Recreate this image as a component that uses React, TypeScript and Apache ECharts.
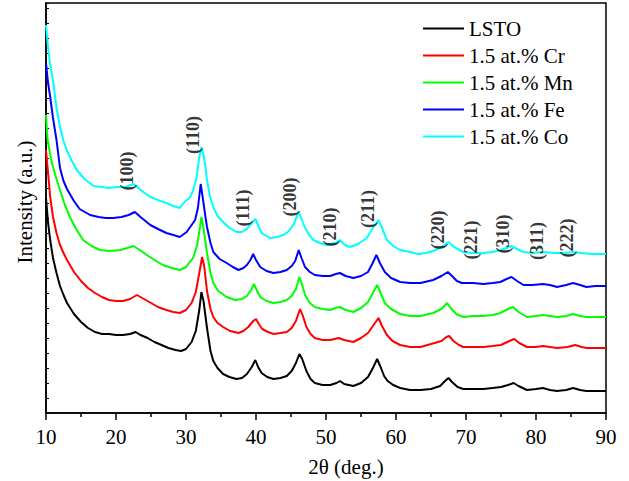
import React, { useEffect, useRef } from "react";
import * as echarts from "echarts";

const seriesNames = ["LSTO", "1.5 at.% Cr", "1.5 at.% Mn", "1.5 at.% Fe", "1.5 at.% Co"];
const seriesColors = ["#000000", "#ff0000", "#00ff00", "#0000ff", "#00ffff"];

const lsto = [
  [10.0, 215], [10.3, 190], [10.6, 173], [11.0, 155], [11.5, 140], [12.0, 127], [12.5, 118], [13.0, 110], [14.0, 99], [15.0, 91], [16.0, 85], [17.0, 81], [18.0, 79], [19.0, 79], [20.0, 78], [21.0, 78], [22.0, 79], [22.8, 81], [23.5, 78], [24.5, 75], [25.5, 71], [26.5, 68], [27.5, 65], [28.5, 63], [29.3, 62], [30.0, 64], [30.8, 71], [31.4, 82], [31.9, 103], [32.2, 121], [32.5, 112], [33.0, 85], [33.5, 62], [33.9, 52], [34.5, 45], [35.3, 39], [36.2, 36], [37.2, 34], [38.0, 35], [38.7, 39], [39.4, 46], [39.9, 53], [40.3, 46], [40.8, 40], [41.6, 36], [42.5, 34], [43.5, 35], [44.4, 37], [45.1, 42], [45.7, 50], [46.2, 59], [46.6, 54], [47.2, 42], [47.8, 34], [48.4, 30], [49.5, 28], [50.6, 28], [51.5, 30], [52.0, 32], [52.6, 29], [53.9, 27], [55.0, 30], [56.0, 36], [56.7, 45], [57.3, 54], [57.8, 46], [58.3, 37], [58.8, 32], [59.6, 28], [60.6, 25], [62.0, 23], [63.5, 23], [65.0, 24], [66.3, 27], [67.0, 32], [67.5, 35], [68.0, 31], [68.8, 26], [69.6, 24], [71.0, 24], [72.5, 24], [73.8, 25], [75.0, 26], [76.0, 28], [76.8, 30], [77.5, 27], [78.7, 23], [80.0, 24], [81.0, 25], [82.0, 23], [83.0, 22], [84.3, 23], [85.3, 25], [86.3, 23], [87.2, 22], [88.5, 22], [90.0, 22],
];

const cr = [
  [10.0, 263], [10.3, 240], [10.6, 216], [11.0, 196], [11.5, 180], [12.0, 168], [12.5, 160], [13.0, 153], [14.0, 141], [15.0, 132], [16.0, 125], [17.0, 120], [18.0, 116], [19.0, 113], [20.0, 112], [21.0, 112], [22.0, 114], [23.0, 118], [24.0, 114], [25.0, 110], [26.0, 106], [27.2, 103], [28.2, 101], [29.1, 100], [30.0, 103], [30.8, 110], [31.4, 121], [31.9, 140], [32.3, 156], [32.6, 147], [33.0, 122], [33.5, 104], [33.9, 96], [34.5, 90], [35.3, 86], [36.3, 82], [37.5, 80], [38.2, 82], [38.9, 86], [39.6, 92], [40.0, 94], [40.4, 89], [40.9, 84], [41.7, 81], [42.5, 79], [43.5, 80], [44.4, 81], [45.1, 85], [45.7, 92], [46.3, 104], [46.7, 97], [47.2, 86], [47.8, 79], [48.4, 75], [49.5, 73], [50.6, 73], [51.8, 75], [52.6, 73], [53.9, 71], [55.0, 75], [56.0, 80], [56.8, 88], [57.5, 95], [58.0, 87], [58.7, 78], [59.5, 72], [60.6, 68], [62.0, 66], [63.5, 66], [65.0, 69], [66.5, 72], [67.2, 76], [67.6, 77], [68.2, 72], [69.0, 68], [69.6, 66], [71.0, 66], [72.5, 66], [73.8, 67], [75.0, 68], [76.2, 72], [76.9, 74], [77.6, 70], [78.7, 66], [80.0, 66], [81.0, 67], [82.0, 66], [83.0, 65], [84.5, 66], [85.6, 68], [86.5, 66], [87.2, 65], [88.5, 65], [90.0, 65],
];

const mn = [
  [10.0, 298], [10.2, 275], [10.6, 258], [11.0, 246], [11.5, 234], [12.0, 223], [12.7, 208], [13.4, 196], [14.3, 184], [15.3, 173], [16.5, 167], [17.7, 163], [19.0, 162], [20.6, 163], [21.6, 165], [22.5, 167], [23.4, 163], [24.4, 158], [25.5, 153], [26.7, 148], [28.0, 145], [29.1, 143], [30.0, 146], [31.0, 155], [31.6, 168], [32.0, 186], [32.2, 196], [32.5, 185], [33.0, 160], [33.5, 140], [33.9, 130], [34.6, 122], [35.8, 116], [37.0, 113], [38.0, 114], [38.7, 117], [39.3, 123], [39.7, 129], [40.1, 123], [40.6, 116], [41.5, 112], [42.5, 110], [43.5, 111], [44.4, 113], [45.1, 117], [45.7, 124], [46.2, 136], [46.6, 128], [47.0, 118], [47.7, 110], [48.4, 106], [49.5, 104], [50.6, 103], [51.3, 105], [52.0, 106], [52.8, 103], [53.9, 101], [55.0, 105], [56.0, 111], [56.7, 120], [57.3, 128], [57.8, 120], [58.4, 110], [59.3, 104], [60.6, 99], [62.0, 97], [63.5, 97], [65.3, 100], [66.5, 104], [67.3, 110], [67.8, 105], [68.6, 99], [69.6, 96], [71.0, 97], [72.5, 97], [73.8, 98], [74.9, 100], [76.0, 104], [76.7, 106], [77.5, 101], [78.7, 96], [80.0, 97], [81.0, 98], [82.0, 97], [83.0, 96], [84.3, 97], [85.3, 99], [86.3, 97], [87.2, 96], [88.5, 96], [90.0, 96],
];

const fe = [
  [10.0, 350], [10.3, 330], [10.6, 316], [11.0, 295], [11.5, 273], [12.0, 245], [12.5, 232], [13.0, 224], [13.9, 213], [14.8, 204], [16.3, 198], [17.5, 196], [18.5, 195], [19.6, 195], [20.8, 196], [21.8, 198], [22.7, 201], [23.5, 196], [24.9, 188], [26.0, 184], [27.2, 180], [28.2, 178], [29.1, 176], [30.1, 181], [30.8, 188], [31.3, 193], [31.7, 205], [32.1, 229], [32.4, 215], [32.7, 200], [33.0, 186], [33.5, 170], [33.9, 161], [34.8, 154], [35.8, 150], [36.7, 146], [37.5, 143], [38.2, 145], [38.7, 148], [39.2, 153], [39.6, 159], [40.0, 153], [40.6, 146], [41.5, 142], [42.5, 140], [43.5, 141], [44.4, 143], [45.1, 147], [45.6, 152], [46.1, 163], [46.5, 155], [47.0, 146], [47.7, 141], [48.4, 138], [49.5, 137], [50.6, 137], [51.4, 139], [52.0, 140], [52.8, 137], [53.9, 135], [55.0, 137], [56.0, 141], [56.6, 149], [57.2, 158], [57.7, 150], [58.4, 141], [59.3, 135], [60.6, 131], [62.0, 130], [63.5, 130], [65.3, 133], [66.5, 137], [67.4, 141], [68.0, 137], [68.7, 132], [69.4, 130], [71.0, 130], [72.5, 129], [73.8, 130], [74.9, 131], [75.8, 134], [76.5, 136], [77.3, 132], [78.2, 128], [79.5, 128], [81.0, 129], [82.0, 128], [83.0, 126], [84.3, 128], [85.3, 130], [86.3, 128], [87.2, 126], [88.5, 127], [90.0, 127],
];

const co = [
  [10.0, 388], [10.3, 365], [10.6, 348], [11.05, 330], [11.5, 305], [12.0, 286], [12.5, 272], [12.95, 263], [13.7, 252], [14.4, 243], [15.5, 234], [16.8, 227], [18.0, 226], [19.0, 225], [20.1, 226], [21.3, 226], [22.5, 229], [23.7, 222], [24.9, 216], [26.0, 213], [27.2, 210], [28.2, 207], [29.1, 205], [29.9, 212], [30.5, 215], [31.0, 222], [31.5, 235], [31.9, 256], [32.2, 266], [32.5, 258], [32.8, 245], [33.0, 233], [33.4, 217], [33.9, 206], [34.5, 197], [35.3, 191], [36.2, 185], [37.2, 181], [38.0, 181], [38.7, 184], [39.4, 190], [39.9, 194], [40.3, 188], [40.8, 180], [41.5, 177], [42.0, 175], [43.0, 176], [43.9, 178], [44.7, 182], [45.4, 189], [46.1, 201], [46.5, 194], [47.0, 185], [47.6, 178], [48.2, 173], [49.1, 170], [50.1, 168], [51.3, 170], [52.0, 173], [52.7, 168], [53.4, 166], [54.6, 169], [55.8, 175], [56.7, 185], [57.5, 193], [58.0, 185], [58.7, 173], [59.6, 167], [60.6, 163], [62.0, 161], [63.2, 159], [64.3, 160], [65.3, 162], [66.5, 166], [67.5, 171], [68.3, 166], [69.6, 161], [71.0, 160], [72.5, 160], [73.8, 161], [74.9, 163], [75.8, 165], [76.5, 167], [77.3, 164], [78.2, 161], [79.5, 160], [81.0, 161], [82.5, 160], [84.0, 160], [85.3, 161], [86.5, 160], [88.0, 159], [90.0, 159],
];

const allSeries = [lsto, cr, mn, fe, co];

const peakLabels = ["(100)", "(110)", "(111)", "(200)", "(210)", "(211)", "(220)", "(221)", "(310)", "(311)", "(222)"];
const peakAngles = [21.6, 31.0, 38.1, 44.9, 50.6, 56.0, 66.0, 70.7, 75.3, 80.1, 84.4];
const peakLabelLevels = [242, 278, 205, 216, 186, 204, 183, 173, 179, 172, 175];

const xTicks = [10, 20, 30, 40, 50, 60, 70, 80, 90];

const FONT = "'Liberation Serif', 'Times New Roman', serif";

export default function App() {
  const ref = useRef<HTMLDivElement>(null);

  useEffect(() => {
    if (!ref.current) return;
    const chart = echarts.init(ref.current, null, { renderer: "svg" });

    const lineSeries = allSeries.map((d, i) => ({
      name: seriesNames[i],
      type: "line",
      data: d,
      symbol: "none",
      showSymbol: false,
      color: seriesColors[i],
      lineStyle: { width: 2, color: seriesColors[i] },
      z: 2 + i,
    }));

    const labelSeries = {
      type: "scatter",
      data: peakLabels.map((t, i) => ({ name: t, value: [peakAngles[i], peakLabelLevels[i]] })),
      symbolSize: 1,
      itemStyle: { color: "rgba(0,0,0,0)" },
      silent: true,
      z: 10,
      label: {
        show: true,
        position: "inside",
        rotate: 90,
        formatter: "{b}",
        color: "#000",
        fontFamily: FONT,
        fontWeight: 700,
        fontSize: 18,
      },
    };

    chart.setOption({
      animation: false,
      backgroundColor: "#ffffff",
      grid: {
        left: 46,
        right: 23,
        top: 3,
        bottom: 68,
        show: true,
        borderColor: "#000",
        borderWidth: 1.5,
        backgroundColor: "transparent",
      },
      legend: {
        data: seriesNames,
        orient: "vertical",
        left: 418,
        top: 13,
        icon: "rect",
        itemWidth: 41,
        itemHeight: 2,
        itemGap: 6,
        textStyle: { color: "#000", fontFamily: FONT, fontSize: 21 },
      },
      xAxis: {
        type: "value",
        min: 10,
        max: 90,
        interval: 10,
        axisLine: { show: true, lineStyle: { color: "#000", width: 1.5 } },
        axisTick: { show: true, inside: false, length: 7, lineStyle: { color: "#000", width: 1.5 } },
        minorTick: { show: true, splitNumber: 2, length: 4, lineStyle: { color: "#000", width: 1.5 } },
        splitLine: { show: false },
        axisLabel: {
          color: "#000",
          fontFamily: FONT,
          fontSize: 21,
          margin: 13,
          formatter: (v: number) => (xTicks.indexOf(v) >= 0 ? String(v) : ""),
        },
      },
      yAxis: {
        type: "value",
        min: 0,
        max: 410,
        interval: 15,
        axisLine: { show: true, lineStyle: { color: "#000", width: 1.5 } },
        axisTick: { show: true, inside: true, length: 3, lineStyle: { color: "#000", width: 1 } },
        axisLabel: { show: false },
        splitLine: { show: false },
      },
      graphic: [
        {
          type: "text",
          x: 346,
          y: 467,
          style: {
            text: "2θ (deg.)",
            font: `21px ${FONT}`,
            fill: "#000",
            textAlign: "center",
            textVerticalAlign: "middle",
          },
        },
        {
          type: "text",
          x: 25,
          y: 202,
          rotation: Math.PI / 2,
          style: {
            text: "Intensity (a.u.)",
            font: `21px ${FONT}`,
            fill: "#000",
            textAlign: "center",
            textVerticalAlign: "middle",
          },
        },
      ],
      series: [...lineSeries, labelSeries],
    });

    return () => chart.dispose();
  }, []);

  return <div ref={ref} style={{ width: 629, height: 481, position: "absolute", left: 0, top: 0 }} />;
}
